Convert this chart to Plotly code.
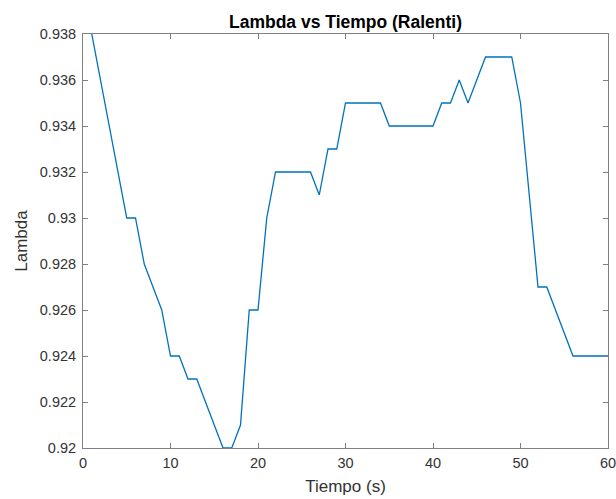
import plotly.graph_objects as go

# Lambda readings at idle, one sample per second
tiempo = list(range(1, 61))
lambda_vals = [
    0.938, 0.936, 0.934, 0.932, 0.930, 0.930, 0.928, 0.927, 0.926, 0.924,
    0.924, 0.923, 0.923, 0.922, 0.921, 0.920, 0.920, 0.921, 0.926, 0.926,
    0.930, 0.932, 0.932, 0.932, 0.932, 0.932, 0.931, 0.933, 0.933, 0.935,
    0.935, 0.935, 0.935, 0.935, 0.934, 0.934, 0.934, 0.934, 0.934, 0.934,
    0.935, 0.935, 0.936, 0.935, 0.936, 0.937, 0.937, 0.937, 0.937, 0.935,
    0.931, 0.927, 0.927, 0.926, 0.925, 0.924, 0.924, 0.924, 0.924, 0.924,
]

x_ticks = [0, 10, 20, 30, 40, 50, 60]
y_ticks = [0.92, 0.922, 0.924, 0.926, 0.928, 0.93, 0.932, 0.934, 0.936, 0.938]
y_tick_text = ["0.92", "0.922", "0.924", "0.926", "0.928", "0.93",
               "0.932", "0.934", "0.936", "0.938"]

axis_color = "#808080"
text_color = "#333333"
font_family = "Liberation Sans, Arial, sans-serif"

fig = go.Figure(
    go.Scatter(
        x=tiempo, y=lambda_vals, mode="lines",
        line=dict(color="#0072BD", width=1.3),
        hoverinfo="x+y",
    )
)

common_axis = dict(
    showgrid=False, zeroline=False, automargin=False,
    showline=True, linecolor=axis_color, linewidth=1,
    mirror="ticks", ticks="inside", ticklen=5, tickcolor=axis_color,
    ticklabeloverflow="allow",
    tickfont=dict(family=font_family, size=14.5, color=text_color),
)

fig.update_xaxes(
    range=[0, 60], tickvals=x_ticks, ticklabelstandoff=2,
    title=dict(text="Tiempo (s)", font=dict(family=font_family, size=17, color=text_color), standoff=9),
    **common_axis,
)
fig.update_yaxes(
    range=[0.92, 0.938], tickvals=y_ticks, ticktext=y_tick_text, ticklabelstandoff=3,
    title=dict(text="Lambda", font=dict(family=font_family, size=17, color=text_color), standoff=7),
    **common_axis,
)

fig.update_layout(
    width=616, height=499,
    margin=dict(l=83, r=8, t=34, b=51),
    paper_bgcolor="white", plot_bgcolor="white",
    showlegend=False,
    title=dict(
        text="<b>Lambda vs Tiempo (Ralenti)</b>",
        x=(83 + 608) / 2 / 616, xanchor="center",
        y=1 - 22 / 499, yanchor="middle",
        font=dict(family=font_family, size=17.5, color="#000000"),
    ),
)

fig.write_html("out.html")
